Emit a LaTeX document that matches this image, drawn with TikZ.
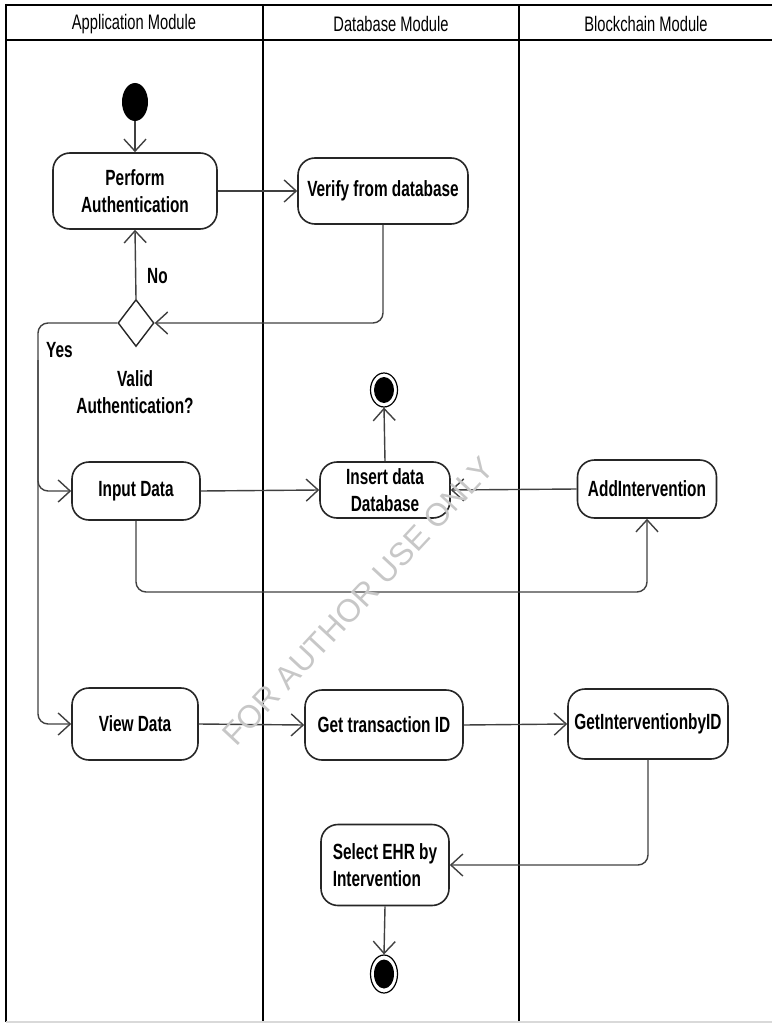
\documentclass[tikz,border=0pt]{standalone}
\usepackage{fontspec}
\setmainfont{Liberation Sans}[FakeStretch=0.7]
\newfontfamily\wmfont{Liberation Sans}
\usetikzlibrary{arrows.meta,shapes.geometric}
\begin{document}
\begin{tikzpicture}[x=1pt,y=-1pt,
  lane/.style={line width=2.4pt, black},
  act/.style={draw=black!85, line width=1.6pt, rounded corners=17pt, fill=white, inner sep=0pt, font=\fontsize{22}{26.5}\selectfont\bfseries, align=center, text=black},
  flow/.style={draw=black!75, line width=1.4pt, -{Straight Barb[length=12pt,width=22pt]}},
  lbl/.style={font=\fontsize{22}{26.5}\selectfont\bfseries, inner sep=0pt, align=center},
  hdr/.style={font=\fontsize{21}{24}\selectfont, inner sep=0pt},
  endring/.style={ellipse, draw=black, line width=1.2pt, fill=white, minimum width=27pt, minimum height=34pt, inner sep=0pt},
  enddot/.style={ellipse, fill=black, minimum width=20pt, minimum height=26pt, inner sep=0pt},
]
\useasboundingbox (0,0) rectangle (772,1024);
% swimlanes
\draw[lane] (6,5) -- (772,5);
\draw[lane] (6,40) -- (772,40);
\draw[lane] (6,4) -- (6,1022);
\draw[lane] (263,5) -- (263,1022);
\draw[lane] (519,5) -- (519,1022);
\draw[black!15, line width=1.5pt] (6,1022) -- (772,1022);
\node[hdr] (h1) at (134,24) {Application Module};
\node[hdr] (h2) at (391,24) {Database Module};
\node[hdr] (h3) at (646,24) {Blockchain Module};

% nodes
\node[ellipse, fill=black, minimum width=26pt, minimum height=38pt, inner sep=0pt] (start) at (135,102) {};
\node[act, minimum width=164pt, minimum height=76pt] (auth) at (135,191) {Perform\\Authentication};
\node[act, minimum width=170pt, minimum height=66pt] (verify) at (383,191) {Verify from database};
\node[diamond, draw=black!85, line width=1.4pt, fill=white, minimum width=36pt, minimum height=47pt, inner sep=0pt] (dec) at (136,323) {};
\node[lbl, anchor=west] (no) at (147,276) {No};
\node[lbl, anchor=west] (yes) at (46,350) {Yes};
\node[lbl] (valid) at (135,392) {Valid\\Authentication?};

\node[endring] (end1) at (384,390) {};
\node[enddot] (end1dot) at (end1) {};

\node[act, minimum width=128pt, minimum height=58pt] (input) at (136,491) {Input Data};
\node[act, minimum width=130pt, minimum height=56pt] (insert) at (385,490) {Insert data\\Database};
\node[act, minimum width=139pt, minimum height=58pt] (addint) at (647,489) {AddIntervention};

\node[act, minimum width=126pt, minimum height=72pt] (view) at (135,724) {View Data};
\node[act, minimum width=158pt, minimum height=70pt] (gettx) at (384,725) {Get transaction ID};
\node[act, minimum width=160pt, minimum height=70pt] (getint) at (648,724) {GetInterventionbyID};

\node[act, minimum width=128pt, minimum height=81pt, align=left] (select) at (385,865) {Select EHR by\\Intervention};

\node[endring, minimum height=38pt] (end2) at (384,974) {};
\node[enddot, minimum height=29pt] (end2dot) at (end2) {};

% helper coordinates
\coordinate (yescol) at (38,323);
\coordinate (yesdown) at (38,360);
\coordinate (bus) at (0,592);

% connectors
\draw[flow] (start) -- (auth.north);
\draw[flow] (auth.east) -- (verify.west);
\draw[flow, rounded corners=10pt] (verify.south) |- (dec.east);
\draw[flow] (dec.north) -- (auth.south);
\draw[flow, rounded corners=10pt] (dec.west) -- (yescol) |- (input.west);
\draw[flow, rounded corners=10pt] (yesdown) |- (view.west);
\draw[flow] (input.east) -- (insert.west);
\draw[flow] (addint.west) -- (insert.east);
\draw[flow] (insert.north) -- (end1.south);
\draw[flow, rounded corners=10pt] (input.south) -- (input.south |- bus) -| (addint.south);
\draw[flow] (view.east) -- (gettx.west);
\draw[flow] (gettx.east) -- (getint.west);
\draw[flow, rounded corners=10pt] (getint.south) |- (select.east);
\draw[flow] (select.south) -- (end2.north);

% watermark
\node[rotate=47, text=black!22, font=\wmfont\fontsize{32}{32}\selectfont, inner sep=0pt] (wm) at (358,601) {FOR AUTHOR USE ONLY};
\end{tikzpicture}
\end{document}
